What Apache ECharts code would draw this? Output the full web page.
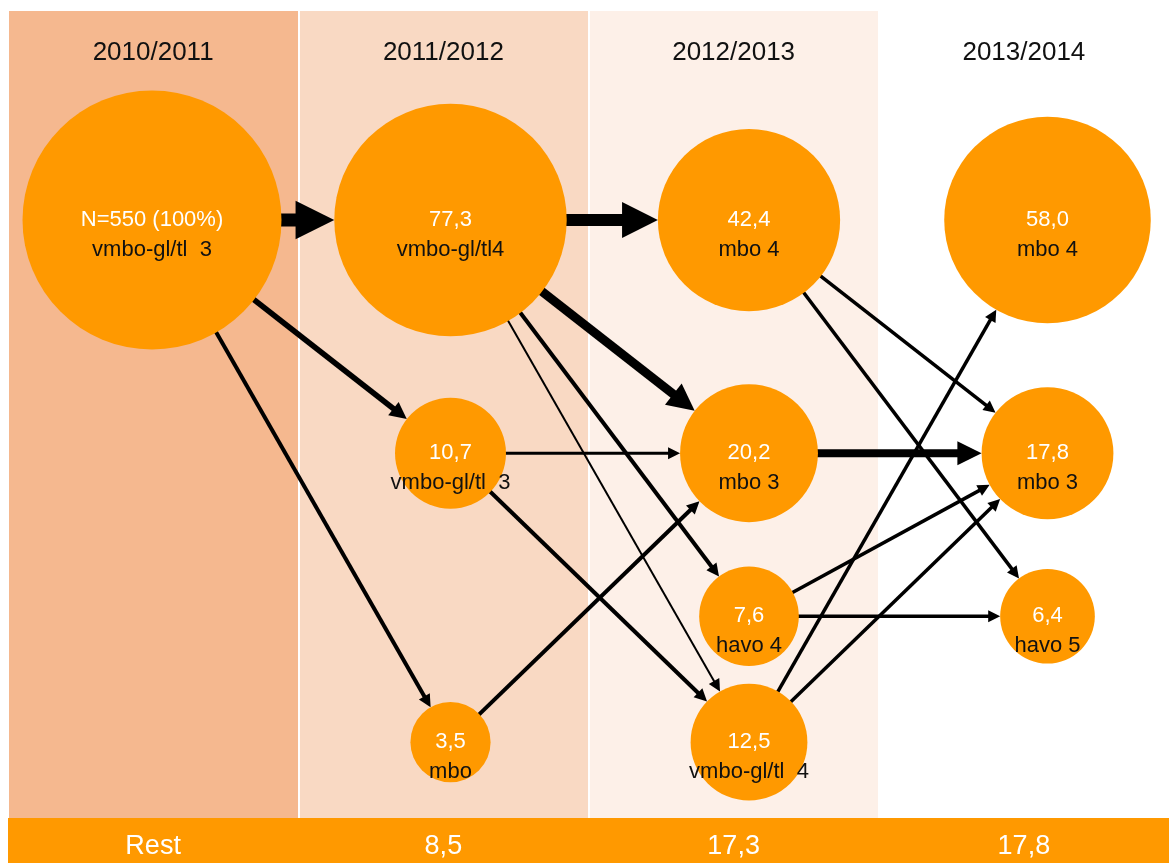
<!DOCTYPE html>
<html>
<head>
<meta charset="utf-8">
<script src="https://cdn.jsdelivr.net/npm/echarts@6/dist/echarts.min.js"></script>
<style>
  html, body { margin: 0; padding: 0; background: #fff; }
  #chart { width: 1169px; height: 863px; }
</style>
</head>
<body>
<div id="chart"></div>
<script>
// school years (columns)
const years = ['2010/2011', '2011/2012', '2012/2013', '2013/2014'];
// share that left the route per year ("Rest")
const restTitle = 'Rest';
const restValues = [8.5, 17.3, 17.8];

// nodes: total group, then % per year and level
const totalN = 550;
const nodeNames = ['vmbo-gl/tl  3', 'vmbo-gl/tl4', 'vmbo-gl/tl  3', 'mbo',
                   'mbo 4', 'mbo 3', 'havo 4', 'vmbo-gl/tl  4',
                   'mbo 4', 'mbo 3', 'havo 5'];
const nodeValues = [100, 77.3, 10.7, 3.5, 42.4, 20.2, 7.6, 12.5, 58.0, 17.8, 6.4];
const nodeStage = [0, 1, 1, 1, 2, 2, 2, 2, 3, 3, 3];
const nodeLevel = [25.9, 25.9, 54.8, 90.6, 25.9, 54.8, 75, 90.6, 25.9, 54.8, 75];

// transitions [from, to]
const links = [
  [0, 1], [0, 2], [0, 3],
  [1, 4], [1, 5], [1, 6], [1, 7],
  [2, 5], [2, 7],
  [3, 5],
  [4, 9], [4, 10],
  [5, 9],
  [6, 9], [6, 10],
  [7, 8], [7, 9]
];

// ---- styling ----
const ORANGE = '#FF9900';
const FONT = "'Liberation Sans', Arial, sans-serif";
const bandColors = ['#F5B88F', '#F9D9C3', '#FDF0E8', '#FFFFFF'];
const linkWidths = [13, 5.5, 4, 12, 9, 4, 2, 3, 4, 4, 3.5, 3.5, 8, 3.5, 3.5, 3.5, 3.5];

function nodeSize(v) {
  return 39 + 22 * Math.sqrt(v);
}
function fmt(v) {
  return v.toFixed(1).replace('.', ',');
}

const chart = echarts.init(document.getElementById('chart'));

const option = {
  animation: false,
  grid: [
    { left: 8, right: 0, top: 11, bottom: 45 },
    { left: 152, right: 121.5, top: 11, bottom: 45 },
    { left: 8, right: 0, top: 818, height: 45 }
  ],
  xAxis: [
    {
      gridIndex: 0, type: 'category', data: years, position: 'top',
      axisLine: { show: false }, axisTick: { show: false },
      axisLabel: { inside: true, interval: 0, margin: 29, fontSize: 26, color: '#111', fontFamily: FONT },
      splitLine: { show: true, interval: 0, lineStyle: { color: '#fff', width: 2 } },
      splitArea: { show: true, interval: 0, areaStyle: { color: bandColors } }
    },
    { gridIndex: 1, type: 'value', min: 0, max: 3, show: false },
    {
      gridIndex: 2, type: 'category', data: years, position: 'top',
      axisLine: { show: false }, axisTick: { show: false },
      axisLabel: {
        inside: true, interval: 0, margin: 15, fontSize: 27, color: '#fff', fontFamily: FONT,
        formatter: (v, i) => i === 0 ? restTitle : fmt(restValues[i - 1])
      },
      splitLine: { show: false },
      splitArea: { show: true, interval: 0, areaStyle: { color: [ORANGE] } }
    }
  ],
  yAxis: [
    { gridIndex: 0, type: 'value', show: false },
    { gridIndex: 1, type: 'value', min: 0, max: 100, inverse: true, show: false },
    { gridIndex: 2, type: 'value', show: false }
  ],
  series: [
    {
      type: 'custom',
      xAxisIndex: 1, yAxisIndex: 1,
      z: 2,
      silent: true,
      data: links,
      renderItem: function (params, api) {
        const s = api.value(0), t = api.value(1);
        const p1 = api.coord([nodeStage[s], nodeLevel[s]]);
        const p2 = api.coord([nodeStage[t], nodeLevel[t]]);
        const dx = p2[0] - p1[0], dy = p2[1] - p1[1];
        const len = Math.sqrt(dx * dx + dy * dy);
        const ux = dx / len, uy = dy / len;
        const r = nodeSize(nodeValues[t]) / 2;
        const w = linkWidths[params.dataIndex];
        const head = Math.max(12, w * 2.9 + 1);
        const half = Math.max(6, w * 1.45 + 0.5);
        const tip = [p2[0] - ux * r, p2[1] - uy * r];
        const base = [tip[0] - ux * head, tip[1] - uy * head];
        return {
          type: 'group',
          children: [
            {
              type: 'line',
              shape: { x1: p1[0], y1: p1[1], x2: base[0] + ux, y2: base[1] + uy },
              style: { stroke: '#000', lineWidth: w }
            },
            {
              type: 'polygon',
              shape: {
                points: [tip,
                  [base[0] - uy * half, base[1] + ux * half],
                  [base[0] + uy * half, base[1] - ux * half]]
              },
              style: { fill: '#000' }
            }
          ]
        };
      }
    },
    {
      type: 'scatter',
      xAxisIndex: 1, yAxisIndex: 1,
      z: 3,
      silent: true,
      data: nodeStage.map((x, i) => [x, nodeLevel[i], nodeValues[i]]),
      symbolSize: (val) => nodeSize(val[2]),
      itemStyle: { color: ORANGE, opacity: 1 },
      label: {
        show: true,
        position: 'inside',
        offset: [0, 15],
        formatter: (p) => {
          const v = p.dataIndex === 0 ? 'N=' + totalN + ' (100%)' : fmt(nodeValues[p.dataIndex]);
          return '{v|' + v + '}\n{n|' + nodeNames[p.dataIndex] + '}';
        },
        rich: {
          v: { color: '#fff', fontSize: 22, lineHeight: 30, fontFamily: FONT },
          n: { color: '#111', fontSize: 22, lineHeight: 30, fontFamily: FONT }
        }
      }
    }
  ]
};

chart.setOption(option);
</script>
</body>
</html>
